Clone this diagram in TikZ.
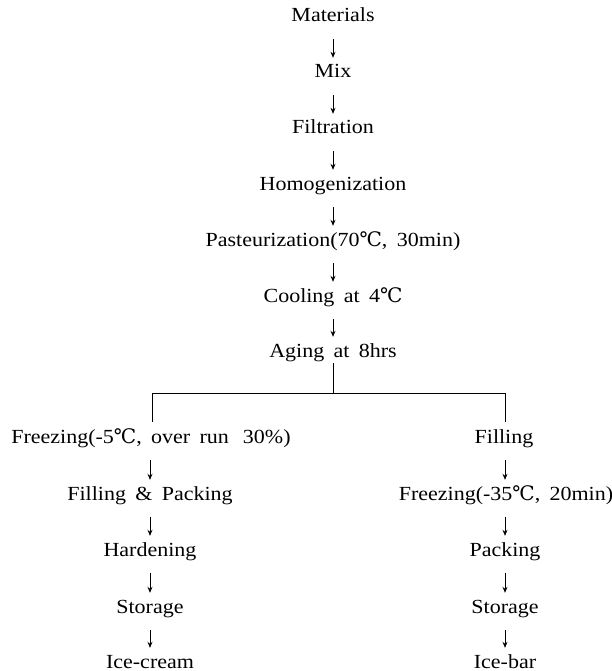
\documentclass[tikz,border=0pt]{standalone}
\usepackage{fontspec}
\setmainfont{Liberation Serif}[FakeStretch=1.1,WordSpace={1.7}]
\newfontfamily\symfont{DejaVu Serif}
\newcommand{\degC}{{\symfont ℃}}
\usetikzlibrary{arrows.meta}
\begin{document}
\begin{tikzpicture}[x=1pt,y=-1pt,
  stepbox/.style={inner sep=0pt,text height=14pt,text depth=4pt,font=\fontsize{20}{24}\selectfont},
  flow/.style={draw,line width=0.9pt,-{Stealth[length=6pt,width=5pt]},shorten <=13pt,shorten >=6pt},
  branch/.style={draw,line width=0.8pt}]
\useasboundingbox (0,0) rectangle (612,671);
% main column
\node[stepbox] (mat) at (333,17) {Materials};
\node[stepbox] (mix) at (333,73) {Mix};
\node[stepbox] (fil) at (333,129) {Filtration};
\node[stepbox] (hom) at (333,185) {Homogenization};
\node[stepbox] (pas) at (333,241) {Pasteurization(70\degC, 30min)};
\node[stepbox] (coo) at (333,297) {Cooling at 4\degC};
\node[stepbox] (agi) at (333,352) {Aging at 8hrs};
% left branch
\node[stepbox] (frL) at (151,438) {Freezing(-5\degC, over run\hspace{14pt}30\%)};
\node[stepbox] (fpL) at (150,495) {Filling \& Packing};
\node[stepbox] (haL) at (150,551) {Hardening};
\node[stepbox] (stL) at (150,608) {Storage};
\node[stepbox] (icL) at (150,663) {Ice-cream};
% right branch
\node[stepbox] (fiR) at (504,438) {Filling};
\node[stepbox] (frR) at (506,495) {Freezing(-35\degC, 20min)};
\node[stepbox] (paR) at (505,551) {Packing};
\node[stepbox] (stR) at (505,608) {Storage};
\node[stepbox] (icR) at (505,663) {Ice-bar};
% arrows main
\draw[flow] (mat) -- (mix);
\draw[flow] (mix) -- (fil);
\draw[flow] (fil) -- (hom);
\draw[flow] (hom) -- (pas);
\draw[flow] (pas) -- (coo);
\draw[flow] (coo) -- (agi);
% arrows left
\draw[flow] (fpL.north |- frL.south) -- (fpL.north);
\draw[flow] (fpL) -- (haL);
\draw[flow] (haL) -- (stL);
\draw[flow] (stL) -- (icL);
% arrows right
\draw[flow] (paR.north |- fiR.south) -- (paR.north |- frR.north);
\draw[flow] (paR.north |- frR.south) -- (paR.north);
\draw[flow] (paR) -- (stR);
\draw[flow] (stR) -- (icR);
% branching
\coordinate (bar) at (333,393);
\coordinate (barL) at (152,393);
\coordinate (barR) at (505,393);
\coordinate (legL) at (152,422);
\coordinate (legR) at (505,422);
\draw[branch,shorten <=2pt] (agi.south) -- (bar);
\draw[branch] (legL) -- (barL) -- (barR) -- (legR);
\end{tikzpicture}
\end{document}
